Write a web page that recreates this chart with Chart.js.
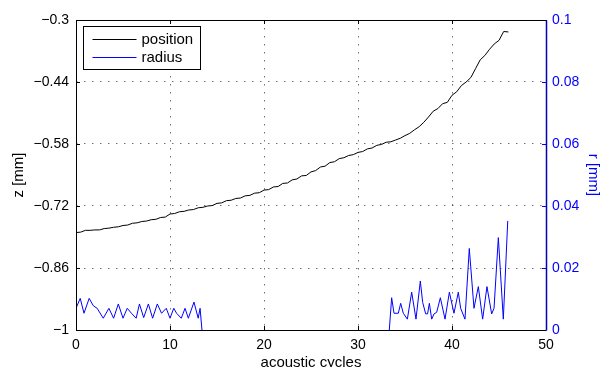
<!DOCTYPE html>
<html><head><meta charset="utf-8">
<script src="https://cdn.jsdelivr.net/npm/chart.js@4.4.0/dist/chart.umd.min.js"></script>
<style>html,body{margin:0;padding:0;background:#fff;overflow:hidden}canvas{display:block}</style>
</head><body>
<canvas id="c" width="602" height="367"></canvas>
<script>
const xTicks = [0, 10, 20, 30, 40, 50];
const xTickLabels = ['0', '10', '20', '30', '40', '50'];
const zTicks = [-1, -0.86, -0.72, -0.58, -0.44, -0.3];
const zTickLabels = ['\u22121', '\u22120.86', '\u22120.72', '\u22120.58', '\u22120.44', '\u22120.3'];
const rTicks = [0, 0.02, 0.04, 0.06, 0.08, 0.1];
const rTickLabels = ['0', '0.02', '0.04', '0.06', '0.08', '0.1'];
const seriesLabels = ['position', 'radius'];

const posX = [0, 0.5, 1, 1.5, 2, 2.5, 3, 3.5, 4, 4.5, 5, 5.5, 6, 6.5, 7, 7.5, 8, 8.5, 9, 9.5,
  10, 10.5, 11, 11.5, 12, 12.5, 13, 13.5, 14, 14.5, 15, 15.5, 16, 16.5, 17, 17.5, 18, 18.5, 19, 19.5,
  20, 20.5, 21, 21.5, 22, 22.5, 23, 23.5, 24, 24.5, 25, 25.5, 26, 26.5, 27, 27.5, 28, 28.5, 29, 29.5,
  30, 30.5, 31, 31.5, 32, 32.5, 33, 33.5, 34, 34.5, 35, 35.5, 36, 36.5, 37, 37.5, 38, 38.5, 39, 39.5,
  40, 40.5, 41, 41.5, 42, 42.5, 43, 43.5, 44, 44.5, 45, 45.5, 46];
const posZ = [-0.780, -0.779, -0.775, -0.775, -0.774, -0.774, -0.771, -0.770, -0.768, -0.767,
  -0.764, -0.763, -0.759, -0.758, -0.755, -0.754, -0.751, -0.750, -0.746, -0.745,
  -0.738, -0.737, -0.733, -0.732, -0.729, -0.728, -0.724, -0.723, -0.720, -0.719,
  -0.714, -0.713, -0.708, -0.707, -0.703, -0.702, -0.697, -0.696, -0.691, -0.690,
  -0.684, -0.683, -0.677, -0.676, -0.669, -0.668, -0.661, -0.659, -0.652, -0.651,
  -0.643, -0.640, -0.632, -0.630, -0.622, -0.620, -0.613, -0.611, -0.606, -0.604,
  -0.599, -0.597, -0.591, -0.589, -0.583, -0.581, -0.576, -0.575, -0.571, -0.567,
  -0.561, -0.556, -0.548, -0.541, -0.531, -0.519, -0.506, -0.500, -0.489, -0.486,
  -0.470, -0.462, -0.448, -0.440, -0.430, -0.410, -0.390, -0.380, -0.366, -0.354,
  -0.346, -0.326, -0.327];

const radX = [0, 0.45, 0.85, 1.4, 1.85, 2.25, 2.9, 3.5, 4.0, 4.5, 5.0, 5.45, 5.9, 6.4, 6.75, 7.2,
  7.7, 8.15, 8.65, 9.1, 9.6, 10.0, 10.4, 10.7, 11.2, 11.6, 11.95, 12.55, 13.0, 13.2, 13.4,
  20,
  33.33, 33.58, 33.83, 34.29, 34.54, 34.82, 35.25, 35.71, 36.17, 36.63, 36.88, 37.2, 37.4, 37.59,
  37.84, 38.09, 38.37, 38.76, 39.26, 39.72, 40.21, 40.67, 40.92, 41.38, 41.84, 42.34, 42.8, 43.26,
  43.72, 44.22, 44.47, 44.93, 45.46, 45.93];
const radR = [0.0070, 0.0102, 0.0054, 0.0102, 0.0078, 0.0070, 0.0038, 0.0070, 0.0038, 0.0084,
  0.0038, 0.0070, 0.0054, 0.0038, 0.0084, 0.0040, 0.0084, 0.0038, 0.0084, 0.0054, 0.0070,
  0.0038, 0.0070, 0.0054, 0.0038, 0.0070, 0.0038, 0.0090, 0.0038, 0.0070, 0.0,
  null,
  0.0, 0.0104, 0.0054, 0.0054, 0.0086, 0.0054, 0.0035, 0.0122, 0.0035, 0.0158, 0.0089, 0.0052,
  0.0052, 0.0086, 0.0035, 0.0052, 0.0057, 0.0104, 0.0035, 0.0122, 0.0054, 0.0122, 0.0070, 0.0035,
  0.0263, 0.0070, 0.0140, 0.0035, 0.0140, 0.0052, 0.0070, 0.0298, 0.0035, 0.0352];

const FONT = '"Liberation Sans", Arial, Helvetica, sans-serif';
const BLUE = '#0000ff';

const framePlugin = {
  id: 'frame',
  afterDraw(chart) {
    const {ctx, chartArea: a, scales} = chart;
    ctx.save();
    const tl = 4;
    ctx.lineWidth = 1;
    ctx.strokeStyle = '#000';
    ctx.beginPath();
    xTicks.forEach(v => {
      const px = Math.round(scales.x.getPixelForValue(v)) + 0.5;
      ctx.moveTo(px, a.bottom); ctx.lineTo(px, a.bottom - tl);
      ctx.moveTo(px, a.top); ctx.lineTo(px, a.top + tl);
    });
    zTicks.forEach(v => {
      const py = Math.round(scales.y.getPixelForValue(v)) + 0.5;
      ctx.moveTo(a.left, py); ctx.lineTo(a.left + tl, py);
    });
    ctx.stroke();
    ctx.strokeStyle = BLUE;
    ctx.beginPath();
    rTicks.forEach(v => {
      const py = Math.round(scales.y1.getPixelForValue(v)) + 0.5;
      ctx.moveTo(a.right, py); ctx.lineTo(a.right - tl, py);
    });
    ctx.stroke();
    const L = Math.round(a.left) + 0.5, R = Math.round(a.right) + 0.5;
    const T = Math.round(a.top) + 0.5, B = Math.round(a.bottom) + 0.5;
    ctx.strokeStyle = '#000';
    ctx.lineWidth = 1;
    ctx.beginPath();
    ctx.moveTo(R, T); ctx.lineTo(L, T); ctx.lineTo(L, B); ctx.lineTo(R, B);
    ctx.stroke();
    ctx.strokeStyle = '#0000b4';
    ctx.lineWidth = 1.5;
    ctx.beginPath();
    ctx.moveTo(R, T); ctx.lineTo(R, B);
    ctx.stroke();
    // legend
    const bx = L + 7, by = T + 6, bw = 117, bh = 43;
    ctx.fillStyle = '#fff';
    ctx.fillRect(bx, by, bw, bh);
    ctx.strokeStyle = '#000';
    ctx.lineWidth = 1;
    ctx.strokeRect(bx, by, bw, bh);
    ctx.font = '15px ' + FONT;
    ctx.textBaseline = 'middle';
    ctx.textAlign = 'left';
    chart.data.datasets.forEach((ds, i) => {
      const yy = Math.round(by + 12.5 + i * 18) + 0.5;
      ctx.strokeStyle = ds.borderColor;
      ctx.lineWidth = 1;
      ctx.beginPath();
      ctx.moveTo(bx + 9, yy); ctx.lineTo(bx + 53, yy);
      ctx.stroke();
      ctx.fillStyle = '#000';
      ctx.fillText(ds.label, bx + 58, yy);
    });
    ctx.restore();
  }
};

const gridCommon = {
  color: 'rgba(0,0,0,0.55)',
  lineWidth: 1,
  drawTicks: false
};

new Chart(document.getElementById('c'), {
  type: 'line',
  data: {
    datasets: [
      {
        label: seriesLabels[0],
        data: posX.map((x, i) => ({x: x, y: posZ[i]})),
        yAxisID: 'y',
        borderColor: '#000',
        borderWidth: 1,
        pointRadius: 0,
        tension: 0,
        fill: false
      },
      {
        label: seriesLabels[1],
        data: radX.map((x, i) => ({x: x, y: radR[i]})),
        yAxisID: 'y1',
        borderColor: BLUE,
        borderWidth: 1,
        pointRadius: 0,
        tension: 0,
        fill: false,
        spanGaps: false
      }
    ]
  },
  options: {
    responsive: false,
    devicePixelRatio: 1,
    animation: false,
    events: [],
    layout: {padding: {top: 20, left: 0, right: 0, bottom: 0}},
    plugins: {legend: {display: false}, tooltip: {enabled: false}},
    scales: {
      x: {
        type: 'linear',
        min: 0, max: 50,
        afterBuildTicks: s => { s.ticks = xTicks.map(v => ({value: v})); },
        afterFit: s => { s.height = 37; },
        grid: gridCommon,
        border: {display: false, dash: [1.5, 6.5]},
        ticks: {
          autoSkip: false, maxRotation: 0, padding: 7,
          color: '#000', font: {family: FONT, size: 14},
          callback: (v, i) => xTickLabels[i]
        },
        title: {
          display: true, text: 'acoustic cycles', color: '#000',
          font: {family: FONT, size: 15, lineHeight: 1},
          padding: {top: 0, bottom: -3}
        }
      },
      y: {
        type: 'linear', position: 'left',
        min: -1, max: -0.3,
        afterBuildTicks: s => { s.ticks = zTicks.map(v => ({value: v})); },
        afterFit: s => { s.width = 76; },
        grid: gridCommon,
        border: {display: false, dash: [1.5, 6.5]},
        ticks: {
          autoSkip: false, padding: 7,
          color: '#000', font: {family: FONT, size: 14},
          callback: (v, i) => zTickLabels[i]
        },
        title: {
          display: true, text: 'z [mm]', color: '#000',
          font: {family: FONT, size: 15, lineHeight: 1},
          padding: {top: 11, bottom: 0}
        }
      },
      y1: {
        type: 'linear', position: 'right',
        min: 0, max: 0.1,
        afterBuildTicks: s => { s.ticks = rTicks.map(v => ({value: v})); },
        afterFit: s => { s.width = 56; },
        grid: {display: false, drawTicks: false},
        border: {display: false},
        ticks: {
          autoSkip: false, padding: 6,
          color: BLUE, font: {family: FONT, size: 14},
          callback: (v, i) => rTickLabels[i]
        },
        title: {
          display: true, text: 'r [mm]', color: BLUE,
          font: {family: FONT, size: 15, lineHeight: 1},
          padding: {top: 1, bottom: 0}
        }
      }
    }
  },
  plugins: [framePlugin]
});
</script>
</body></html>
